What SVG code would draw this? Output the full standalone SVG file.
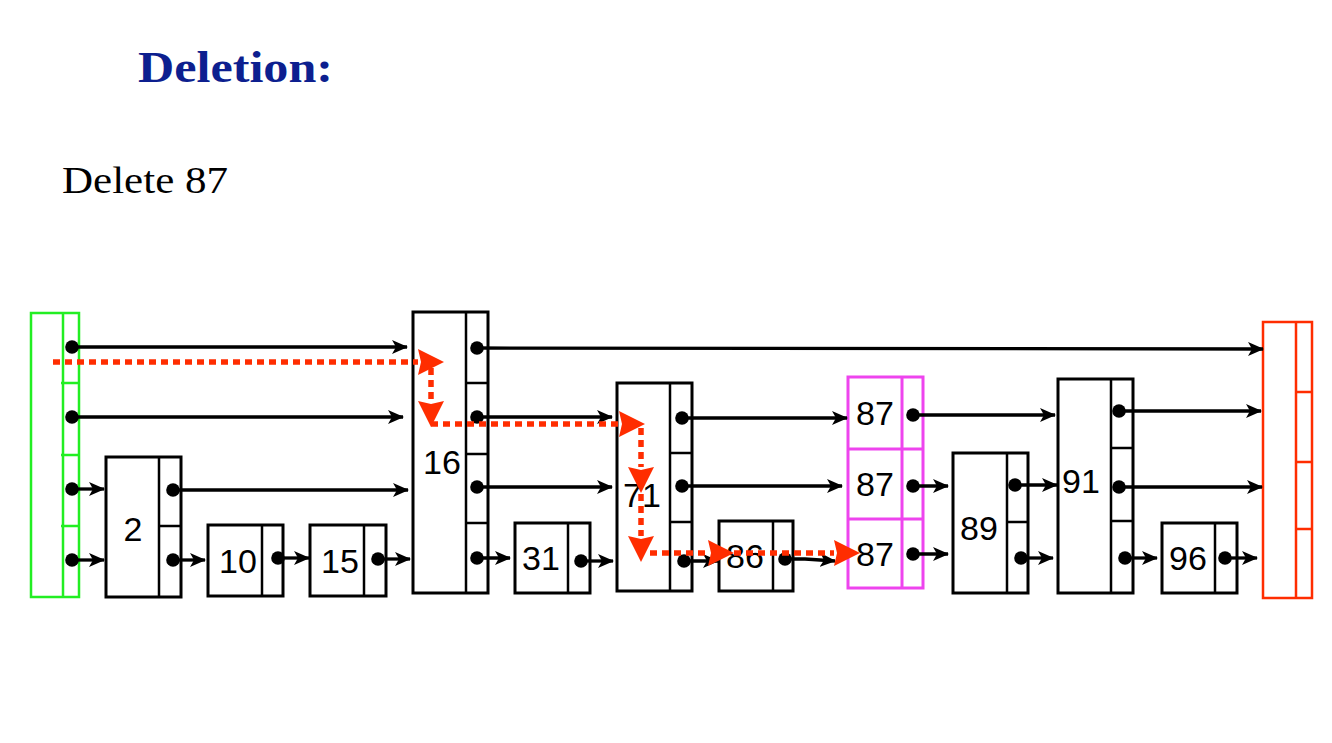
<svg xmlns="http://www.w3.org/2000/svg" width="1332" height="743" viewBox="0 0 1332 743">
<defs>
<marker id="ah" viewBox="0 0 16 14" refX="15" refY="7" markerWidth="16" markerHeight="14" markerUnits="userSpaceOnUse" orient="auto">
<path d="M0,0 L16,7 L0,14 L4,7 z" fill="#000"/>
</marker>
<marker id="rh" viewBox="0 0 26 26" refX="0" refY="13" markerWidth="26" markerHeight="26" markerUnits="userSpaceOnUse" orient="auto">
<path d="M0,0 L26,13 L0,26 L3,13 z" fill="#ff2d00"/>
</marker>
</defs>
<style>
.box{fill:#fff;stroke:#000;stroke-width:3}
.ln{stroke:#000;stroke-width:2.5;fill:none}
.g{fill:none;stroke:#22ee22;stroke-width:2.5}
.m{fill:none;stroke:#ee44ee;stroke-width:3}
.r{fill:none;stroke:#ff2d00;stroke-width:2.5}
.lbl{font-family:"Liberation Sans",Arial,sans-serif;font-size:34px;fill:#000;text-anchor:middle}
.arr{stroke:#000;stroke-width:3.3;fill:none;marker-end:url(#ah)}
.dot{fill:#000}
.rd{stroke:#ff2d00;stroke-width:5.5;fill:none;stroke-dasharray:7 5;marker-end:url(#rh)}
</style>
<rect width="1332" height="743" fill="#fff"/>
<text x="138" y="82" font-family="'Liberation Serif','Times New Roman',serif" font-weight="bold" font-size="44" fill="#0d1f8f" textLength="195" lengthAdjust="spacingAndGlyphs">Deletion:</text>
<text x="62" y="193" font-family="'Liberation Serif','Times New Roman',serif" font-size="38" fill="#000" textLength="166" lengthAdjust="spacingAndGlyphs">Delete 87</text>

<g id="head">
<rect class="g" x="31" y="313" width="48" height="284"/>
<line class="g" x1="63" y1="313" x2="63" y2="597"/>
<path class="g" stroke-width="4" d="M61,383 H79 M61,455 H79 M61,526 H79"/>
</g>
<g id="n2">
<rect class="box" x="106" y="457" width="75" height="140"/>
<path class="ln" d="M159,457 V597 M159,526 H181"/>
<text class="lbl" x="133" y="541">2</text>
</g>
<g id="n10">
<rect class="box" x="208" y="525" width="75" height="71"/>
<path class="ln" d="M262,525 V596"/>
<text class="lbl" x="238" y="573">10</text>
</g>
<g id="n15">
<rect class="box" x="310" y="525" width="76" height="71"/>
<path class="ln" d="M364,525 V596"/>
<text class="lbl" x="340" y="573">15</text>
</g>
<g id="n16">
<rect class="box" x="413" y="312" width="75" height="281"/>
<path class="ln" d="M466,312 V593 M466,383 H488 M466,454 H488 M466,523 H488"/>
<text class="lbl" x="442" y="474">16</text>
</g>
<g id="n31">
<rect class="box" x="515" y="523" width="75" height="70"/>
<path class="ln" d="M568,523 V593"/>
<text class="lbl" x="541" y="570">31</text>
</g>
<g id="n71">
<rect class="box" x="617" y="383" width="75" height="208"/>
<path class="ln" d="M670,383 V591 M670,453 H692 M670,522 H692"/>
<text class="lbl" x="642" y="507">71</text>
</g>
<g id="n86">
<rect class="box" x="719" y="521" width="74" height="70"/>
<path class="ln" d="M773,521 V591"/>
<text class="lbl" x="745" y="568">86</text>
</g>
<g id="n87">
<rect class="m" x="848" y="377" width="75" height="211"/>
<path class="m" d="M902,377 V588 M848,449 H923 M848,519 H923"/>
<text class="lbl" x="875" y="425">87</text>
<text class="lbl" x="875" y="496">87</text>
<text class="lbl" x="875" y="566">87</text>
</g>
<g id="n89">
<rect class="box" x="953" y="453" width="75" height="140"/>
<path class="ln" d="M1007,453 V593 M1007,522 H1028"/>
<text class="lbl" x="979" y="540">89</text>
</g>
<g id="n91">
<rect class="box" x="1058" y="379" width="75" height="214"/>
<path class="ln" d="M1111,379 V593 M1111,448 H1133 M1111,521 H1133"/>
<text class="lbl" x="1081" y="493">91</text>
</g>
<g id="n96">
<rect class="box" x="1162" y="523" width="75" height="70"/>
<path class="ln" d="M1215,523 V593"/>
<text class="lbl" x="1188" y="570">96</text>
</g>
<g id="tail">
<rect class="r" x="1263" y="322" width="49" height="276"/>
<line class="r" x1="1296" y1="322" x2="1296" y2="598"/>
<path class="r" stroke-width="4" d="M1296,392 H1312 M1296,462 H1312 M1296,529 H1312"/>
</g>

<g id="connectors">
<line class="arr" x1="72" y1="347" x2="407" y2="347"/>
<line class="arr" x1="72" y1="417" x2="403" y2="417"/>
<line class="arr" x1="72" y1="489" x2="104" y2="489"/>
<line class="arr" x1="72" y1="560" x2="104" y2="560"/>
<line class="arr" x1="173" y1="490" x2="408" y2="490"/>
<line class="arr" x1="173" y1="560" x2="205" y2="560"/>
<line class="arr" x1="278" y1="558" x2="309" y2="558"/>
<line class="arr" x1="378" y1="559" x2="410" y2="559"/>
<line class="arr" x1="477" y1="348" x2="1263" y2="349"/>
<line class="arr" x1="477" y1="417" x2="612" y2="417"/>
<line class="arr" x1="477" y1="487" x2="612" y2="487"/>
<line class="arr" x1="477" y1="558" x2="510" y2="558"/>
<line class="arr" x1="581" y1="561" x2="613" y2="561"/>
<line class="arr" x1="682" y1="418" x2="847" y2="418"/>
<line class="arr" x1="682" y1="486" x2="842" y2="486"/>
<line class="arr" x1="684" y1="561" x2="718" y2="561"/>
<path class="arr" d="M785,559 L805,559 L835,561"/>
<line class="arr" x1="913" y1="415" x2="1055" y2="415"/>
<line class="arr" x1="913" y1="486" x2="948" y2="486"/>
<line class="arr" x1="913" y1="554" x2="948" y2="554"/>
<line class="arr" x1="1015" y1="485" x2="1057" y2="485"/>
<line class="arr" x1="1021" y1="558" x2="1053" y2="558"/>
<line class="arr" x1="1119" y1="411" x2="1261" y2="411"/>
<line class="arr" x1="1119" y1="487" x2="1262" y2="487"/>
<line class="arr" x1="1125" y1="558" x2="1157" y2="558"/>
<line class="arr" x1="1225" y1="558" x2="1257" y2="558"/>
<g class="dot">
<circle cx="72" cy="347" r="6.8"/>
<circle cx="72" cy="417" r="6.8"/>
<circle cx="72" cy="489" r="6.8"/>
<circle cx="72" cy="560" r="6.8"/>
<circle cx="173" cy="490" r="6.8"/>
<circle cx="173" cy="560" r="6.8"/>
<circle cx="278" cy="558" r="6.8"/>
<circle cx="378" cy="559" r="6.8"/>
<circle cx="477" cy="348" r="6.8"/>
<circle cx="477" cy="417" r="6.8"/>
<circle cx="477" cy="487" r="6.8"/>
<circle cx="477" cy="558" r="6.8"/>
<circle cx="581" cy="561" r="6.8"/>
<circle cx="682" cy="418" r="6.8"/>
<circle cx="682" cy="486" r="6.8"/>
<circle cx="684" cy="561" r="6.8"/>
<circle cx="785" cy="559" r="6.8"/>
<circle cx="913" cy="415" r="6.8"/>
<circle cx="913" cy="486" r="6.8"/>
<circle cx="913" cy="554" r="6.8"/>
<circle cx="1015" cy="485" r="6.8"/>
<circle cx="1021" cy="558" r="6.8"/>
<circle cx="1119" cy="411" r="6.8"/>
<circle cx="1119" cy="487" r="6.8"/>
<circle cx="1125" cy="558" r="6.8"/>
<circle cx="1225" cy="558" r="6.8"/>
</g>
<path class="rd" d="M53,362 H418"/>
<path class="rd" d="M431,368 V401"/>
<path class="rd" d="M431,424 H619"/>
<path class="rd" d="M641,428 V467"/>
<path class="rd" d="M641,494 V536"/>
<path class="rd" d="M650,553 H708"/>
<path class="rd" d="M734,553 H834"/>
</g>
</svg>
